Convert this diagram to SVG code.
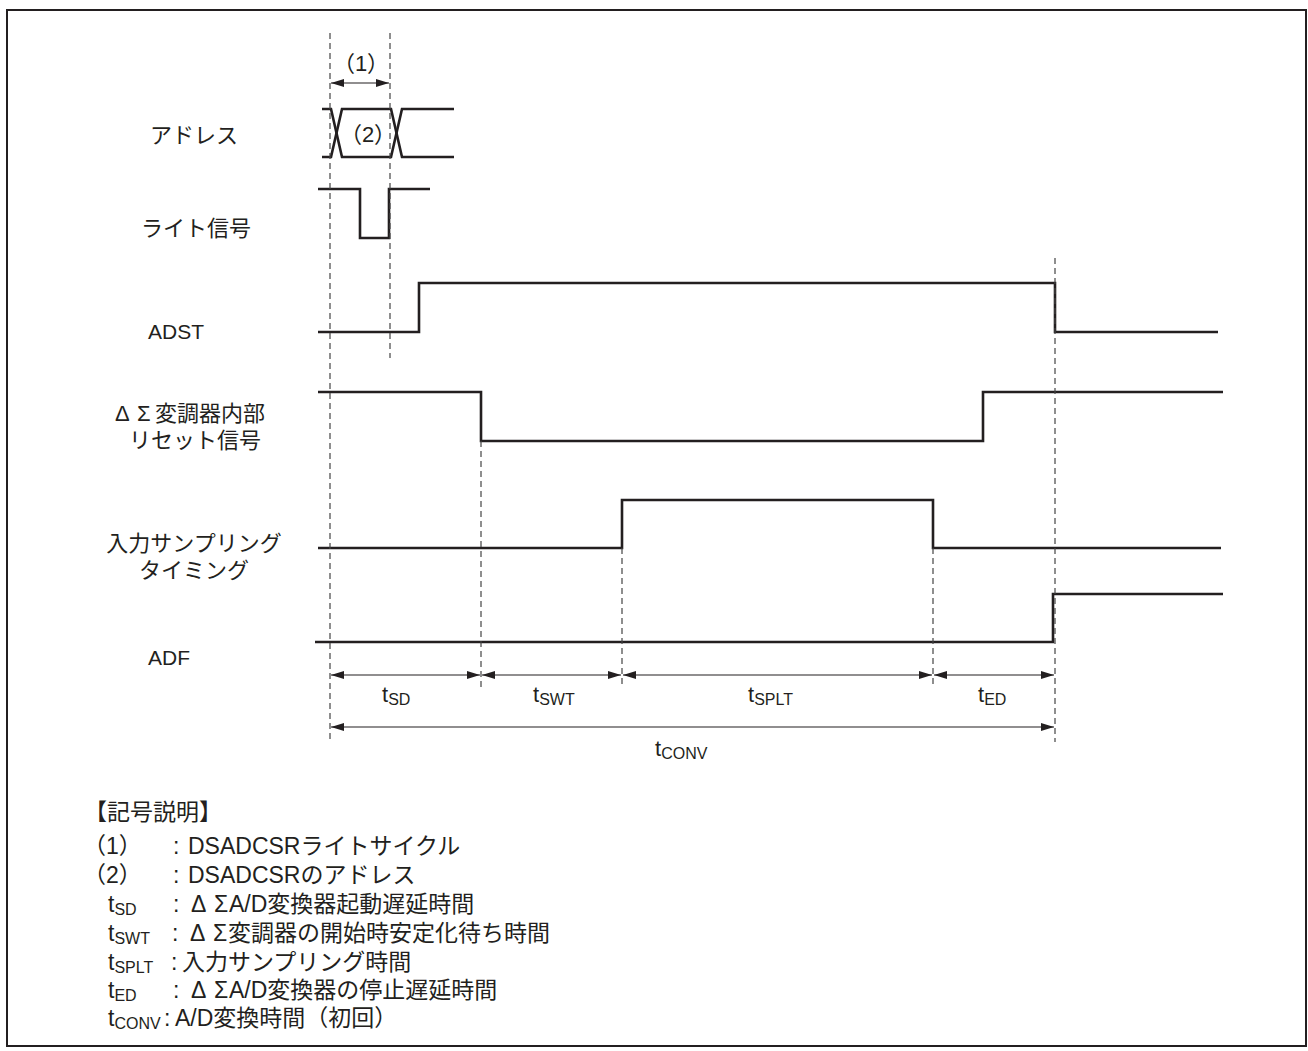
<svg xmlns="http://www.w3.org/2000/svg" width="1308" height="1051" viewBox="0 0 1308 1051">
<style>
.frame{fill:none;stroke:#231f20;stroke-width:2}
.sig{fill:none;stroke:#231f20;stroke-width:2.6;stroke-linejoin:miter}
.dash{fill:none;stroke:#444;stroke-width:1.2;stroke-dasharray:6 4}
.dim{fill:none;stroke:#231f20;stroke-width:1.2;marker-start:url(#ah);marker-end:url(#ah)}
text{font-family:"Liberation Sans","Noto Sans CJK JP",sans-serif;fill:#231f20}
.lbl{font-size:22px}
.lat{font-size:21px}
.t{font-size:22px}
.sub{font-size:16px}
.lg{font-size:23px}
.lgs{font-size:16px}
</style>
<defs>
<marker id="ah" markerUnits="userSpaceOnUse" markerWidth="13" markerHeight="8" refX="13" refY="4" orient="auto-start-reverse" viewBox="0 0 13 8"><path d="M0,0 L13,4 L0,8 z" fill="#231f20"/></marker>
</defs>
<rect class="frame" x="7" y="10" width="1299" height="1036"/>

<g id="sig-address">
<text class="lbl" x="194" y="143" text-anchor="middle">アドレス</text>
<path class="sig" d="M322,109 H331 L342,157 H391 L402,109 H454"/>
<path class="sig" d="M322,157 H331 L342,109 H391 L402,157 H454"/>
<text class="lbl" x="368" y="142" text-anchor="middle">（2）</text>
</g>

<g id="sig-write">
<text class="lbl" x="196" y="236" text-anchor="middle">ライト信号</text>
<path class="sig" d="M318,189 H360 V238 H389 V189 H430"/>
</g>

<g id="sig-adst">
<text class="lat" x="148" y="339">ADST</text>
<path class="sig" d="M318,332 H419 V283 H1055 V332 H1218"/>
</g>

<g id="sig-reset">
<text class="lbl" y="421"><tspan x="115">Δ</tspan><tspan x="137">Σ</tspan><tspan x="155">変調器内部</tspan></text>
<text class="lbl" x="195" y="448" text-anchor="middle">リセット信号</text>
<path class="sig" d="M318,392 H481 V441 H983 V392 H1223"/>
</g>

<g id="sig-sampling">
<text class="lbl" x="194" y="551" text-anchor="middle">入力サンプリング</text>
<text class="lbl" x="194" y="578" text-anchor="middle">タイミング</text>
<path class="sig" d="M318,548 H622 V500 H933 V548 H1221"/>
</g>

<g id="sig-adf">
<text class="lat" x="148" y="665">ADF</text>
<path class="sig" d="M315,642 H1053 V594 H1223"/>
</g>

<g id="connectors">
<line class="dash" x1="330" y1="33" x2="330" y2="742"/>
<line class="dash" x1="390" y1="33" x2="390" y2="358"/>
<line class="dash" x1="481" y1="441" x2="481" y2="687"/>
<line class="dash" x1="622" y1="548" x2="622" y2="687"/>
<line class="dash" x1="933" y1="548" x2="933" y2="687"/>
<line class="dash" x1="1055" y1="258" x2="1055" y2="742"/>
<line class="dim" x1="331" y1="83" x2="389" y2="83"/>
<line class="dim" x1="331" y1="675" x2="480" y2="675"/>
<line class="dim" x1="482" y1="675" x2="621" y2="675"/>
<line class="dim" x1="623" y1="675" x2="932" y2="675"/>
<line class="dim" x1="934" y1="675" x2="1054" y2="675"/>
<line class="dim" x1="331" y1="727" x2="1054" y2="727"/>
</g>

<g id="dim-labels">
<text class="lbl" x="361" y="71" text-anchor="middle">（1）</text>
<text class="t" x="382" y="702">t<tspan class="sub" dy="3">SD</tspan></text>
<text class="t" x="533" y="702">t<tspan class="sub" dy="3">SWT</tspan></text>
<text class="t" x="748" y="702">t<tspan class="sub" dy="3">SPLT</tspan></text>
<text class="t" x="978" y="702">t<tspan class="sub" dy="3">ED</tspan></text>
<text class="t" x="655" y="756">t<tspan class="sub" dy="3">CONV</tspan></text>
</g>

<g id="legend">
<text class="lg" x="84" y="820">【記号説明】</text>
<text class="lg" y="854"><tspan x="83">（1）</tspan><tspan x="173">:</tspan><tspan x="188">DSADCSRライトサイクル</tspan></text>
<text class="lg" y="883"><tspan x="83">（2）</tspan><tspan x="173">:</tspan><tspan x="188">DSADCSRのアドレス</tspan></text>
<text class="lg" y="912"><tspan x="108">t</tspan><tspan class="lgs" dy="3">SD</tspan><tspan x="173" dy="-3">:</tspan><tspan x="191">Δ</tspan><tspan x="214">Σ</tspan><tspan x="229">A/D変換器起動遅延時間</tspan></text>
<text class="lg" y="941"><tspan x="108">t</tspan><tspan class="lgs" dy="3">SWT</tspan><tspan x="172" dy="-3">:</tspan><tspan x="190">Δ</tspan><tspan x="213">Σ</tspan><tspan x="228">変調器の開始時安定化待ち時間</tspan></text>
<text class="lg" y="970"><tspan x="108">t</tspan><tspan class="lgs" dy="3">SPLT</tspan><tspan x="171" dy="-3">:</tspan><tspan x="182">入力サンプリング時間</tspan></text>
<text class="lg" y="998"><tspan x="108">t</tspan><tspan class="lgs" dy="3">ED</tspan><tspan x="173" dy="-3">:</tspan><tspan x="191">Δ</tspan><tspan x="214">Σ</tspan><tspan x="229">A/D変換器の停止遅延時間</tspan></text>
<text class="lg" y="1026"><tspan x="108">t</tspan><tspan class="lgs" dy="3">CONV</tspan><tspan x="164" dy="-3">:</tspan><tspan x="175">A/D変換時間（初回）</tspan></text>
</g>
</svg>
